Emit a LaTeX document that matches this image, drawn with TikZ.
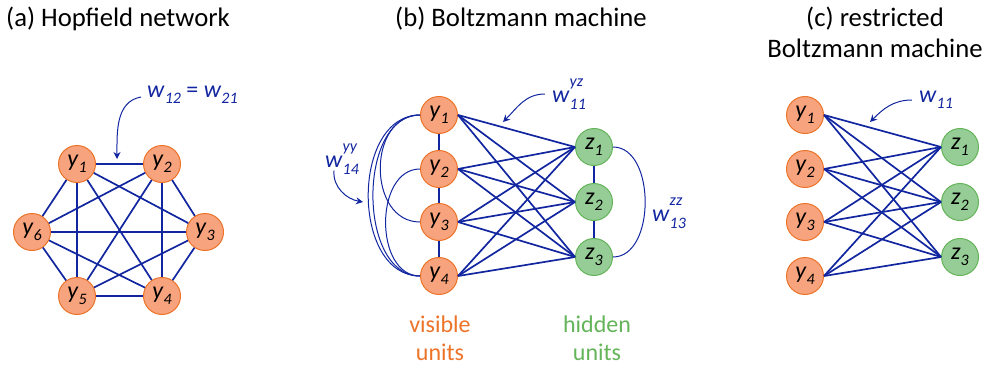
\documentclass[tikz,border=0pt]{standalone}
\usepackage{fontspec}
\setmainfont{Carlito}
\usetikzlibrary{arrows.meta}

\definecolor{edgeblue}{RGB}{18,38,160}
\definecolor{visfill}{RGB}{247,163,125}
\definecolor{visline}{RGB}{237,115,40}
\definecolor{hidfill}{RGB}{150,205,150}
\definecolor{hidline}{RGB}{100,180,90}

\newcommand{\unitname}[2]{\textit{#1}\raisebox{-6pt}{\fontsize{16}{18}\selectfont\textit{#2}}}
\newcommand{\wpair}[3]{\textit{#1}\rlap{\raisebox{16pt}{\fontsize{16}{18}\selectfont\textit{#2}}}\raisebox{-7pt}{\fontsize{16}{18}\selectfont\textit{#3}}}

\tikzset{
 unit/.style={circle,line width=1pt,minimum size=37pt,inner sep=0pt,font=\fontsize{24}{28}\selectfont},
 visunit/.style={unit,draw=visline,fill=visfill},
 hidunit/.style={unit,draw=hidline,fill=hidfill},
 link/.style={draw=edgeblue,line width=1.7pt},
 arcedge/.style={draw=edgeblue,line width=1pt},
 wlabel/.style={text=edgeblue,inner sep=0pt,font=\fontsize{24}{28}\selectfont},
 pointer/.style={draw=edgeblue,line width=1pt,-{Stealth[length=7pt,width=7pt]}},
 title/.style={inner sep=0pt,font=\fontsize{26.7}{31}\selectfont},
 group/.style={inner sep=0pt,align=center,font=\fontsize{24}{28}\selectfont}
}

\begin{document}
\begin{tikzpicture}[x=1pt,y=-1pt]
 \useasboundingbox (0,0) rectangle (984,369);

 % titles
 \node[title,anchor=base west] (ta) at (6,27) {(a) Hopfield network};
 \node[title,anchor=base] (tb) at (521,27) {(b) Boltzmann machine};
 \node[title,anchor=base] (tc) at (875,27) {(c) restricted};
 \node[title,anchor=base] (tc2) at (875,58) {Boltzmann machine};

 % (a) Hopfield network
 \node[visunit] (a1) at (77,164) {\unitname{y}{1}};
 \node[visunit] (a2) at (162,164) {\unitname{y}{2}};
 \node[visunit] (a3) at (205,232) {\unitname{y}{3}};
 \node[visunit] (a4) at (162,296) {\unitname{y}{4}};
 \node[visunit] (a5) at (77,296) {\unitname{y}{5}};
 \node[visunit] (a6) at (32,232) {\unitname{y}{6}};
 \foreach \i/\j in {1/2,1/3,1/4,1/5,1/6,2/3,2/4,2/5,2/6,3/4,3/5,3/6,4/5,4/6,5/6}
  \draw[link] (a\i) -- (a\j);
 \node[wlabel,anchor=west] (wa) at (147,95) {\unitname{w}{12} = \unitname{w}{21}};
 \coordinate (pa) at (117,159);
 \draw[pointer] ([xshift=-6pt,yshift=-2pt]wa.west) to[out=190,in=90] (pa);

 % (b) Boltzmann machine
 \node[visunit] (b1) at (439,115) {\unitname{y}{1}};
 \node[visunit] (b2) at (439,169) {\unitname{y}{2}};
 \node[visunit] (b3) at (439,222) {\unitname{y}{3}};
 \node[visunit] (b4) at (439,276) {\unitname{y}{4}};
 \node[hidunit] (bz1) at (594,147) {\unitname{z}{1}};
 \node[hidunit] (bz2) at (594,202) {\unitname{z}{2}};
 \node[hidunit] (bz3) at (594,257) {\unitname{z}{3}};
 \foreach \i in {1,...,4}
  \foreach \j in {1,2,3}
   \draw[link] (b\i.east) -- (bz\j.west);
 \draw[link] (b1) -- (b2);
 \draw[link] (b2) -- (b3);
 \draw[link] (b3) -- (b4);
 \draw[link] (bz1) -- (bz2);
 \draw[link] (bz2) -- (bz3);
 \draw[arcedge] (b1.west) to[out=180,in=180,looseness=1.27] (b3.west);
 \draw[arcedge] (b2.west) to[out=180,in=180,looseness=1.1] (b4.west);
 \draw[arcedge] (b1.west) to[out=180,in=180,looseness=1.0] (b4.west);
 \draw[arcedge] (b1.west) to[out=180,in=180,looseness=1.1] (b4.west);
 \draw[arcedge] (bz1.east) to[out=0,in=0] (bz3.east);
 \node[wlabel] (wyz) at (569,94) {\wpair{w}{yz}{11}};
 \coordinate (pyz) at (503,122);
 \draw[pointer] ([xshift=-7pt]wyz.west) to[out=180,in=45] (pyz);
 \node[wlabel] (wyy) at (342,159) {\wpair{w}{yy}{14}};
 \coordinate (pyy) at (363,202);
 \draw[pointer] ([xshift=-8pt,yshift=4pt]wyy.south) to[out=-95,in=170] (pyy);
 \node[wlabel] (wzz) at (669,213) {\wpair{w}{zz}{13}};
 \node[group,text=visline,anchor=base] (vis) at (440,360) {visible\\units};
 \node[group,text=hidline,anchor=base] (hid) at (597,360) {hidden\\units};

 % (c) restricted Boltzmann machine
 \node[visunit] (c1) at (805,115) {\unitname{y}{1}};
 \node[visunit] (c2) at (805,169) {\unitname{y}{2}};
 \node[visunit] (c3) at (805,222) {\unitname{y}{3}};
 \node[visunit] (c4) at (805,276) {\unitname{y}{4}};
 \node[hidunit] (cz1) at (960,147) {\unitname{z}{1}};
 \node[hidunit] (cz2) at (960,202) {\unitname{z}{2}};
 \node[hidunit] (cz3) at (960,257) {\unitname{z}{3}};
 \foreach \i in {1,...,4}
  \foreach \j in {1,2,3}
   \draw[link] (c\i.east) -- (cz\j.west);
 \node[wlabel] (wc) at (936,100) {\unitname{w}{11}};
 \coordinate (pc) at (870,122);
 \draw[pointer] ([xshift=-7pt]wc.west) to[out=180,in=45] (pc);
\end{tikzpicture}
\end{document}
